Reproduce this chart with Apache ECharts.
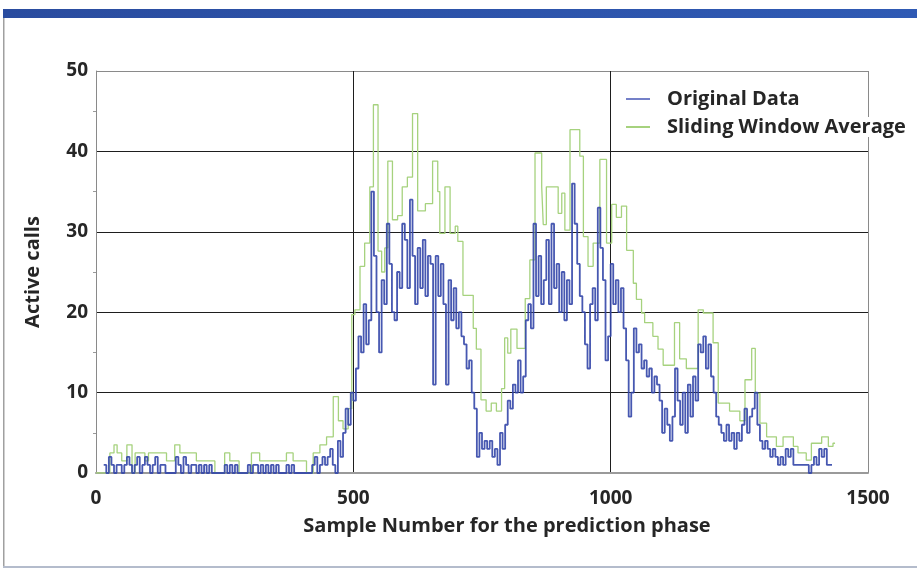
<!DOCTYPE html>
<html><head><meta charset="utf-8">
<script src="https://cdn.jsdelivr.net/npm/echarts@6/dist/echarts.min.js"></script>
<style>html,body{margin:0;padding:0;background:#fff}#c{width:917px;height:570px}</style>
</head><body><div id="c"></div>
<script>
const xTicks = [0, 500, 1000, 1500];
const yTicks = [0, 10, 20, 30, 40, 50];
const seriesNames = ['Original Data', 'Sliding Window Average'];
const axisNames = ['Sample Number for the prediction phase', 'Active calls'];

// Original data: one value every 5 samples, starting at sample 15
const originalStart = 15;
const originalStep = 5;
const originalValues = [
  1,0,2,1,0,1,1,0,1,2,1,
  0,1,2,0,1,2,1,0,1,2,0,1,1,0,
  0,0,0,
  2,1,0,2,1,0,1,1,0,1,0,1,0,1,0,
  0,0,0,0,
  1,0,1,0,1,
  0,0,0,0,
  1,0,1,1,0,1,0,1,0,1,0,1,0,
  0,0,
  1,0,1,
  0,0,0,0,0,0,0,
  1,2,0,1,2,1,2,
  3,1,0,4,2,5,8,6,10,9,13,17,15,21,16,19,35,27,20,15,24,21,31,26,20,19,25,23,31,29,23,34,27,21,28,23,29,22,27,26,
  11,27,22,26,21,11,24,19,23,18,
  20,17,16,13,14,10,8,2,5,3,
  4,3,4,2,3,1,5,3,6,9,
  8,11,10,14,10,12,19,21,18,31,
  22,27,21,24,29,21,31,23,26,20,
  25,19,24,21,36,31,26,22,20,16,
  13,21,23,19,33,28,24,14,17,26,
  21,24,20,23,18,14,7,10,18,15,
  16,13,14,12,13,10,12,11,9,5,
  8,6,4,7,13,9,6,10,5,11,
  7,12,9,16,15,17,13,16,12,10,
  7,6,5,4,6,4,5,3,5,4,
  6,8,5,7,8,10,6,4,3,4,
  3,2,3,2,1,2,1,3,2,3,
  1,1,1,1,1,1,0,1,2,1,
  3,2,3,1,1,1
];

// Sliding window average: step change points (sample, value)
const windowSamples = [0,27,35,41,50,60,70,76,95,102,137,153,163,195,231,250,260,278,302,318,370,383,409,422,435,448,461,471,480,490,497,503,513,522,532,539,548,555,561,567,576,586,595,605,615,625,640,654,664,668,678,688,698,703,713,733,739,748,758,768,778,788,794,800,806,818,834,843,853,866,869,875,898,905,911,921,940,947,956,966,979,992,1002,1011,1021,1031,1044,1050,1060,1066,1082,1092,1102,1124,1134,1147,1170,1180,1199,1209,1231,1251,1261,1274,1281,1290,1303,1322,1335,1355,1364,1380,1390,1410,1423,1432,1436];
const windowValues  = [0,2.5,3.5,2.5,1.5,3.5,0,2.5,1.5,2.5,1.5,3.5,2.5,1.5,0,2.5,1.5,0,2.5,1.5,2.5,1.5,0,2.5,3.5,4.5,9.5,6.5,5.5,8,19.7,20.3,25.7,28.6,35.6,45.8,27.6,25,28,38.8,31.5,32,35.6,36.8,44.7,32.6,33.5,38.8,35,29.8,35.6,29.8,30.7,28.8,22.1,18,15.4,9.1,7.7,8.7,7.7,10.5,16.8,14.9,17.9,15.5,21.7,26.5,39.8,35.6,30.9,35.6,32.3,34.8,30.2,42.7,39.4,29.4,25.7,28.6,39,28.6,33.4,31.8,33.2,27.7,23.6,21.6,19.9,18.7,17,15.4,13.4,18.7,14.2,13,20.3,19.9,16.2,8.7,7.7,6.5,11.6,15.5,9.9,6.2,4.5,3.3,4.5,3.3,2.5,1.6,3.7,4.5,3.3,3.7,3.7];

const originalData = originalValues.map((v, i) => [originalStart + i * originalStep, v]);
const windowData = windowSamples.map((s, i) => [s, windowValues[i]]);

const FONT = 'Open Sans';
const TXT = '#262626';
const chart = echarts.init(document.getElementById('c'), null, {renderer: 'canvas'});
chart.setOption({
  animation: false,
  backgroundColor: '#fff',
  textStyle: {fontFamily: FONT},
  graphic: [
    {type: 'rect', shape: {x: 3, y: 9, width: 914, height: 9},
      style: {fill: new echarts.graphic.LinearGradient(0, 0, 1, 0, [{offset: 0, color: '#2a4c9f'}, {offset: 1, color: '#2f5ab4'}])}},
    {type: 'rect', shape: {x: 3, y: 18, width: 1.5, height: 550}, style: {fill: '#a0a0a0'}},
    {type: 'rect', shape: {x: 3, y: 566, width: 914, height: 2}, style: {fill: '#b4bccc'}}
  ],
  grid: {left: 96, right: 49, top: 71, bottom: 97, show: false},
  legend: {
    data: seriesNames.map(n => ({name: n, icon: 'rect'})),
    orient: 'vertical', left: 621, top: 84, itemWidth: 24, itemHeight: 2, itemGap: 8,
    textStyle: {fontFamily: FONT, fontWeight: 'bold', fontSize: 20, color: TXT,
      padding: [0, 0, 0, 12], backgroundColor: '#fff'}
  },
  xAxis: {
    type: 'value', min: xTicks[0], max: xTicks[xTicks.length - 1], interval: 500,
    name: axisNames[0], nameLocation: 'middle', nameGap: 43,
    nameTextStyle: {fontFamily: FONT, fontWeight: 'bold', fontSize: 20, color: TXT, padding: [0, 0, 0, 50]},
    axisLine: {show: true, onZero: false, lineStyle: {color: '#9a9a9a', width: 2}},
    axisTick: {show: false},
    axisLabel: {fontFamily: FONT, fontWeight: 'bold', fontSize: 19, color: TXT, margin: 16,
      formatter: v => String(v)},
    splitLine: {show: true, lineStyle: {color: ['#8a8a8a', '#1e1e1e', '#1e1e1e', '#8a8a8a'], width: 1}}
  },
  yAxis: {
    type: 'value', min: yTicks[0], max: yTicks[yTicks.length - 1], interval: 10,
    name: axisNames[1], nameLocation: 'middle', nameGap: 53,
    nameTextStyle: {fontFamily: FONT, fontWeight: 'bold', fontSize: 20, color: TXT},
    axisLine: {show: true, lineStyle: {color: '#8a8a8a', width: 1}},
    axisTick: {show: false},
    minorTick: {show: true, splitNumber: 2, length: 3, lineStyle: {color: '#999'}},
    axisLabel: {fontFamily: FONT, fontWeight: 'bold', fontSize: 19, color: TXT, margin: 8,
      formatter: v => String(v)},
    splitLine: {show: true, lineStyle: {color: ['#8a8a8a', '#1e1e1e', '#1e1e1e', '#1e1e1e', '#1e1e1e', '#8a8a8a'], width: 1}}
  },
  series: [
    {name: seriesNames[0], type: 'line', step: 'end', data: originalData, showSymbol: false, symbol: 'none',
      lineStyle: {color: '#3346a8', width: 1.8, opacity: 0.9}, itemStyle: {color: '#7480c8'}, z: 3},
    {name: seriesNames[1], type: 'line', step: 'end', data: windowData, showSymbol: false, symbol: 'none',
      lineStyle: {color: '#a6d27e', width: 1.3}, itemStyle: {color: '#a6d27e'}, z: 2}
  ]
});
</script></body></html>
